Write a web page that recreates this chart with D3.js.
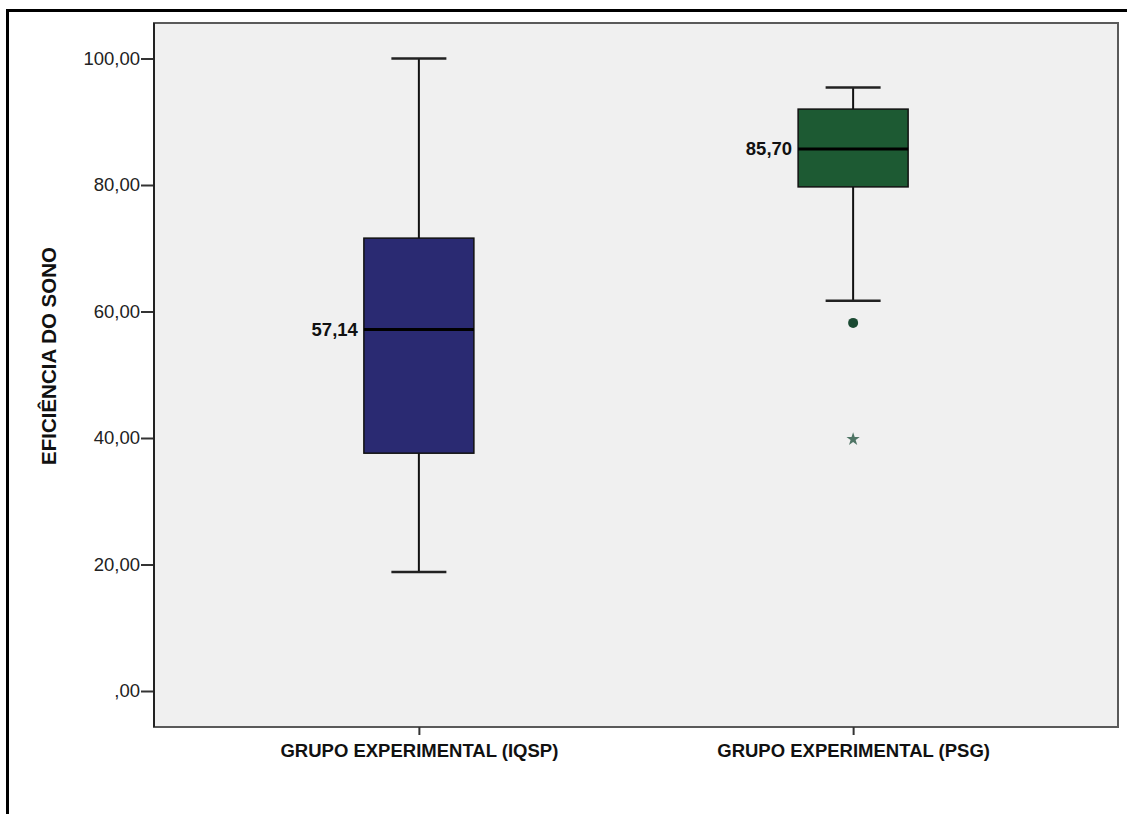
<!DOCTYPE html>
<html>
<head>
<meta charset="utf-8">
<script src="https://cdn.jsdelivr.net/npm/d3@7"></script>
<style>
  html, body { margin: 0; padding: 0; background: #ffffff; }
  svg { display: block; }
</style>
</head>
<body>
<script>
// Box-plot summaries of sleep efficiency for the two measurement groups
const groups = ["GRUPO EXPERIMENTAL (IQSP)", "GRUPO EXPERIMENTAL (PSG)"];
const whiskerLow  = [18.8, 61.7];
const q1          = [37.6, 79.7];
const medians     = [57.14, 85.70];
const q3          = [71.6, 92.0];
const whiskerHigh = [100.0, 95.4];
const boxColors   = ["#2a2a72", "#1d5a33"];
// Outliers of the PSG group: circle = mild outlier, star = extreme
const outlierGroup = ["GRUPO EXPERIMENTAL (PSG)", "GRUPO EXPERIMENTAL (PSG)"];
const outlierValue = [58.2, 39.8];
const outlierKind  = ["circle", "star"];
const yTicks = [0, 20, 40, 60, 80, 100];
const yTitle = "EFICIÊNCIA DO SONO";

const W = 1127, H = 814;
const plot = { left: 154, top: 23, right: 1118, bottom: 727 };
const FONT = "'Liberation Sans', Arial, sans-serif";

const svg = d3.select("body").append("svg").attr("width", W).attr("height", H);

// Outer frame (top and left edges)
svg.append("line").attr("x1", 7.5).attr("x2", W).attr("y1", 10.5).attr("y2", 10.5)
  .attr("stroke", "#000").attr("stroke-width", 3);
svg.append("line").attr("x1", 7.5).attr("x2", 7.5).attr("y1", 9).attr("y2", H)
  .attr("stroke", "#000").attr("stroke-width", 3);

// Plot background
svg.append("rect")
  .attr("x", plot.left).attr("y", plot.top)
  .attr("width", plot.right - plot.left).attr("height", plot.bottom - plot.top)
  .attr("fill", "#f0f0f0")
  .attr("stroke", "#5a5a5a").attr("stroke-width", 2);

const y = d3.scaleLinear().domain([0, 100]).range([691, 58.5]);
const x = d3.scalePoint().domain(groups).range([plot.left, plot.right]).padding(0.61);

const fmt = v => v === 0 ? ",00" : d3.format(".2f")(v).replace(".", ",");

// Y axis
const yAxis = svg.append("g")
  .attr("transform", `translate(${plot.left},0)`)
  .call(d3.axisLeft(y).tickValues(yTicks).tickFormat(fmt).tickSize(13).tickSizeOuter(0));
yAxis.select(".domain").remove();
yAxis.selectAll(".tick line").attr("stroke", "#333").attr("stroke-width", 2);
yAxis.selectAll(".tick text")
  .attr("x", -14)
  .style("font-family", FONT)
  .style("font-size", "18.5px")
  .attr("fill", "#222");
svg.append("line").attr("x1", plot.left).attr("x2", plot.left)
  .attr("y1", plot.top).attr("y2", plot.bottom)
  .attr("stroke", "#222").attr("stroke-width", 2);

// X axis
const xAxis = svg.append("g")
  .attr("transform", `translate(0,${plot.bottom})`)
  .call(d3.axisBottom(x).tickSize(8).tickSizeOuter(0));
xAxis.select(".domain").remove();
xAxis.selectAll(".tick line").attr("stroke", "#333").attr("stroke-width", 2);
xAxis.selectAll(".tick text")
  .attr("y", 17)
  .style("font-family", FONT)
  .style("font-size", "18.5px")
  .style("font-weight", "bold")
  .attr("fill", "#111");

// Y axis title
svg.append("text")
  .attr("transform", `translate(56,356) rotate(-90)`)
  .attr("text-anchor", "middle")
  .style("font-family", FONT)
  .style("font-size", "20.5px")
  .style("font-weight", "bold")
  .attr("fill", "#111")
  .text(yTitle);

const boxW = 110, capW = 55;
const data = groups.map((g, i) => ({
  g, lo: whiskerLow[i], q1: q1[i], med: medians[i], q3: q3[i], hi: whiskerHigh[i], color: boxColors[i]
}));

const boxes = svg.selectAll("g.box").data(data).join("g").attr("class", "box");

// Whiskers
boxes.append("line")
  .attr("x1", d => x(d.g)).attr("x2", d => x(d.g))
  .attr("y1", d => y(d.hi)).attr("y2", d => y(d.q3))
  .attr("stroke", "#111").attr("stroke-width", 2);
boxes.append("line")
  .attr("x1", d => x(d.g)).attr("x2", d => x(d.g))
  .attr("y1", d => y(d.q1)).attr("y2", d => y(d.lo))
  .attr("stroke", "#111").attr("stroke-width", 2);
boxes.selectAll("line.cap").data(d => [d.lo, d.hi].map(v => ({ g: d.g, v })))
  .join("line").attr("class", "cap")
  .attr("x1", d => x(d.g) - capW / 2).attr("x2", d => x(d.g) + capW / 2)
  .attr("y1", d => y(d.v)).attr("y2", d => y(d.v))
  .attr("stroke", "#222").attr("stroke-width", 2.5);

// Boxes
boxes.append("rect")
  .attr("x", d => x(d.g) - boxW / 2)
  .attr("y", d => y(d.q3))
  .attr("width", boxW)
  .attr("height", d => y(d.q1) - y(d.q3))
  .attr("fill", d => d.color)
  .attr("stroke", "#111").attr("stroke-width", 1.5);

// Medians
boxes.append("line")
  .attr("x1", d => x(d.g) - boxW / 2).attr("x2", d => x(d.g) + boxW / 2)
  .attr("y1", d => y(d.med)).attr("y2", d => y(d.med))
  .attr("stroke", "#000").attr("stroke-width", 3);

// Median labels
boxes.append("text")
  .attr("x", d => x(d.g) - boxW / 2 - 6)
  .attr("y", d => y(d.med))
  .attr("dy", "0.35em")
  .attr("text-anchor", "end")
  .style("font-family", FONT)
  .style("font-size", "18.5px")
  .style("font-weight", "bold")
  .attr("fill", "#111")
  .text(d => fmt(d.med));

// Outliers
const outliers = outlierValue.map((v, i) => ({ g: outlierGroup[i], v, kind: outlierKind[i] }));
svg.selectAll("circle.outlier").data(outliers.filter(d => d.kind === "circle"))
  .join("circle").attr("class", "outlier")
  .attr("cx", d => x(d.g)).attr("cy", d => y(d.v)).attr("r", 5)
  .attr("fill", "#1b4a33");
svg.selectAll("path.extreme").data(outliers.filter(d => d.kind === "star"))
  .join("path").attr("class", "extreme")
  .attr("transform", d => `translate(${x(d.g)},${y(d.v)})`)
  .attr("d", d3.symbol().type(d3.symbolStar).size(55))
  .attr("fill", "#4f7565");
</script>
</body>
</html>
